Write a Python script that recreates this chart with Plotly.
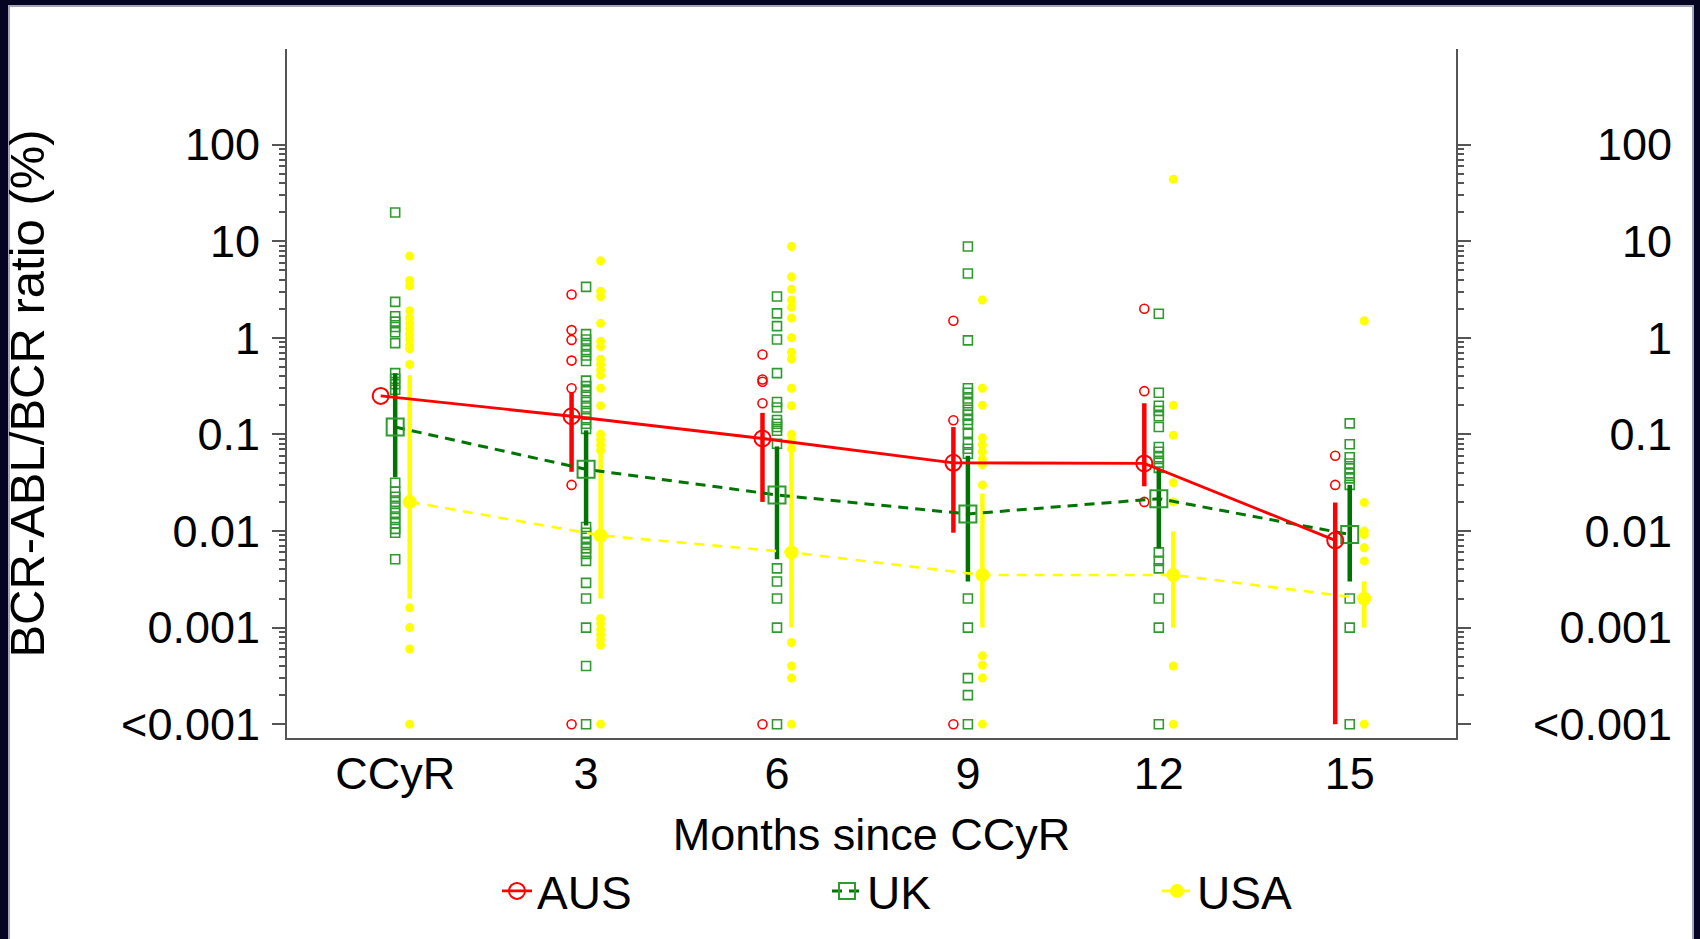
import plotly.graph_objects as go

# ---------------------------------------------------------------- data
months = [0, 3, 6, 9, 12, 15]
month_labels = ["CCyR", "3", "6", "9", "12", "15"]

ytick_vals = [1e-4, 1e-3, 1e-2, 1e-1, 1, 10, 100]
ytick_text = ["<0.001", "0.001", "0.01", "0.1", "1", "10", "100"]

# undetectable results are drawn on the "<0.001" row
LOD = 1e-4

# individual patient ratios (%), one list per time point
aus_points = [
    [],
    [2.8, 1.2, 0.95, 0.58, 0.30, 0.030, LOD],
    [0.67, 0.37, 0.35, 0.21, LOD],
    [1.5, 0.14, LOD],
    [2.0, 0.28, 0.02],
    [0.06, 0.03],
]
uk_points = [
    [19.8, 2.35, 1.67, 1.47, 1.29, 1.14, 0.88, 0.43, 0.376, 0.33, 0.29,
     0.0316, 0.0256, 0.0226, 0.02, 0.0175, 0.0154, 0.0136, 0.012, 0.0105,
     0.0096, 0.0051],
    [3.36, 1.09, 0.96, 0.84, 0.745, 0.655, 0.575, 0.36, 0.316, 0.279, 0.245,
     0.216, 0.19, 0.167, 0.147, 0.129, 0.114, 0.011, 0.0096, 0.0085, 0.0075,
     0.0066, 0.0058, 0.0049, 0.0029, 0.002, 0.001, 0.0004, LOD],
    [2.67, 1.79, 1.32, 0.96, 0.43, 0.216, 0.19, 0.141, 0.129, 0.119, 0.109,
     0.08, 0.0041, 0.003, 0.002, 0.001, LOD],
    [8.8, 4.63, 0.94, 0.30, 0.27, 0.235, 0.21, 0.18, 0.16, 0.141, 0.126,
     0.104, 0.081, 0.071, 0.063, 0.002, 0.001, 0.0003, 0.0002, LOD],
    [1.77, 0.27, 0.198, 0.175, 0.154, 0.119, 0.074, 0.066, 0.058, 0.051,
     0.045, 0.006, 0.0049, 0.0041, 0.002, 0.001, LOD],
    [0.13, 0.079, 0.058, 0.050, 0.0445, 0.0395, 0.035, 0.030, 0.002, 0.001,
     LOD],
]
usa_points = [
    [7.0, 3.92, 3.44, 1.90, 1.60, 1.41, 1.24, 1.09, 0.96, 0.84, 0.77, 0.53,
     0.0016, 0.001, 0.0006, LOD],
    [6.25, 3.03, 2.67, 1.41, 0.92, 0.81, 0.60, 0.53, 0.465, 0.41, 0.30,
     0.198, 0.1, 0.088, 0.078, 0.068, 0.00124, 0.0011, 0.00096, 0.00085,
     0.00075, 0.00066, LOD],
    [8.8, 4.27, 3.17, 2.46, 2.07, 1.6, 1.0, 0.71, 0.60, 0.30, 0.198, 0.1,
     0.085, 0.071, 0.0007, 0.0004, 0.0003, LOD],
    [2.46, 0.30, 0.2, 0.092, 0.078, 0.066, 0.0555, 0.0486, 0.030, 0.00051,
     0.00041, 0.0003, LOD],
    [43.7, 0.2, 0.098, 0.0316, 0.02, 0.0004, LOD],
    [1.5, 0.0197, 0.01, 0.0092, 0.0067, 0.0049, LOD],
]

# summary per time point: centre value and interval
aus_mid = [0.25, 0.154, 0.0906, 0.0508, 0.05, 0.008]
aus_low = [None, 0.041, 0.02, 0.0096, 0.029, LOD]
aus_high = [None, 0.27, 0.167, 0.119, 0.21, 0.0197]

uk_mid = [0.119, 0.0435, 0.0236, 0.015, 0.0216, 0.0092]
uk_low = [0.036, 0.0114, 0.0051, 0.003, 0.0066, 0.003]
uk_high = [0.43, 0.11, 0.075, 0.06, 0.043, 0.03]

usa_mid = [0.02, 0.009, 0.006, 0.0035, 0.0035, 0.002]
usa_low = [0.002, 0.002, 0.001, 0.001, 0.001, 0.001]
usa_high = [0.41, 0.066, 0.07, 0.0245, 0.0099, 0.003]

# ---------------------------------------------------------------- styling
W, H = 1700, 939
L, R, T, B = 287, 1672, 49, 738      # plot-area edges in px
AXIS_RIGHT = 1456                      # right-hand axis line
FRAME = "#050521"
AX = "#555555"
FONT = "Liberation Sans, Arial, Helvetica, sans-serif"

RED = "#ff0000"
GREEN_PT = "#2f9a2f"
GREEN_DK = "#007400"
YELLOW = "#ffff00"

OFF = 0.228   # horizontal nudge (months) separating the three countries

series = [
    dict(name="AUS", pts=aus_points, mid=aus_mid, lo=aus_low, hi=aus_high,
         off=-OFF, pt_marker=dict(symbol="circle-open", size=9, color=RED,
                                  line=dict(width=1.6, color=RED)),
         bar_color=RED,
         mid_marker=dict(symbol="circle-open", size=16, color=RED,
                         line=dict(width=2, color=RED)),
         line=dict(color=RED, width=2.8)),
    dict(name="UK", pts=uk_points, mid=uk_mid, lo=uk_low, hi=uk_high,
         off=0.0, pt_marker=dict(symbol="square-open", size=9, color=GREEN_PT,
                                 line=dict(width=1.6, color=GREEN_PT)),
         bar_color=GREEN_DK,
         mid_marker=dict(symbol="square-open", size=17, color=GREEN_PT,
                         line=dict(width=2, color=GREEN_PT)),
         line=dict(color=GREEN_DK, width=3, dash="10px,7px")),
    dict(name="USA", pts=usa_points, mid=usa_mid, lo=usa_low, hi=usa_high,
         off=OFF, pt_marker=dict(symbol="circle", size=9, color=YELLOW,
                                 line=dict(width=0)),
         bar_color=YELLOW,
         mid_marker=dict(symbol="circle", size=14, color=YELLOW,
                         line=dict(width=0)),
         line=dict(color=YELLOW, width=2.6, dash="10px,8px")),
]

fig = go.Figure()

# individual results
for s in series:
    xs, ys = [], []
    for m, vals in zip(months, s["pts"]):
        xs += [m + s["off"]] * len(vals)
        ys += vals
    fig.add_trace(go.Scatter(x=xs, y=ys, mode="markers", marker=s["pt_marker"],
                             showlegend=False, hoverinfo="skip"))

# interval bars
for s in series:
    xs, ys = [], []
    for m, lo, hi in zip(months, s["lo"], s["hi"]):
        if lo is None or hi is None:
            continue
        xs += [m + s["off"], m + s["off"], None]
        ys += [lo, hi, None]
    fig.add_trace(go.Scatter(x=xs, y=ys, mode="lines",
                             line=dict(color=s["bar_color"], width=4.5),
                             showlegend=False, hoverinfo="skip"))

# connecting lines through the centre values (AUS drawn last, on top)
for s in reversed(series):
    fig.add_trace(go.Scatter(x=[m + s["off"] for m in months], y=s["mid"],
                             mode="lines+markers", name=s["name"],
                             line=s["line"], marker=s["mid_marker"],
                             hoverinfo="skip"))

# carrier for the right-hand tick labels
fig.add_trace(go.Scatter(x=[], y=[], yaxis="y2", showlegend=False,
                         hoverinfo="skip"))

pw = R - L
ph = B - T


def px_x(p):
    return (p - L) / pw


def px_y(p):
    return (B - p) / ph


minor_vals = [k * 10 ** d for d in range(-4, 2) for k in range(2, 10)]
yrange = [-4.143, 2.989]

fig.update_layout(
    width=W, height=H,
    margin=dict(l=L, r=W - R, t=T, b=H - B, pad=0),
    paper_bgcolor=FRAME,
    plot_bgcolor="rgba(0,0,0,0)",
    font=dict(family=FONT, size=45, color="black"),
    xaxis=dict(
        domain=[0, px_x(AXIS_RIGHT)], range=[-1.7, 16.67],
        tickmode="array", tickvals=months, ticktext=month_labels,
        ticks="", showline=True, linecolor=AX, linewidth=2,
        showgrid=False, zeroline=False, automargin=False,
        ticklabelstandoff=-5,
        title=dict(text="Months since CCyR", standoff=20,
                   font=dict(size=45)),
    ),
    yaxis=dict(
        type="log", range=yrange,
        tickmode="array", tickvals=ytick_vals, ticktext=ytick_text,
        ticks="outside", ticklen=13, tickwidth=2, tickcolor=AX,
        showline=True, linecolor=AX, linewidth=2, mirror="allticks",
        minor=dict(tickmode="array", tickvals=minor_vals, ticks="outside",
                   ticklen=6, tickwidth=1.5, tickcolor=AX, showgrid=False),
        showgrid=False, zeroline=False, automargin=False,
        ticklabelstandoff=3,
        title=dict(text="BCR-ABL/BCR ratio (%)", standoff=62,
                   font=dict(size=49)),
    ),
    yaxis2=dict(
        type="log", range=yrange, overlaying="y", anchor="free",
        position=1, side="left",
        tickmode="array", tickvals=ytick_vals, ticktext=ytick_text,
        ticks="", showline=False, showgrid=False, zeroline=False,
        automargin=False,
    ),
    showlegend=True,
    legend=dict(
        orientation="h", x=px_x(497), xanchor="left",
        y=px_y(891), yanchor="middle",
        entrywidth=285, entrywidthmode="pixels",
        font=dict(size=46), bgcolor="rgba(0,0,0,0)",
        traceorder="reversed",
    ),
    shapes=[
        dict(type="rect", layer="below", xref="paper", yref="paper",
             x0=px_x(9), x1=px_x(1693), y0=px_y(6), y1=px_y(H + 5),
             fillcolor="white", line=dict(color="#a4a4bc", width=2)),
    ],
)

fig.write_html("out.html")
